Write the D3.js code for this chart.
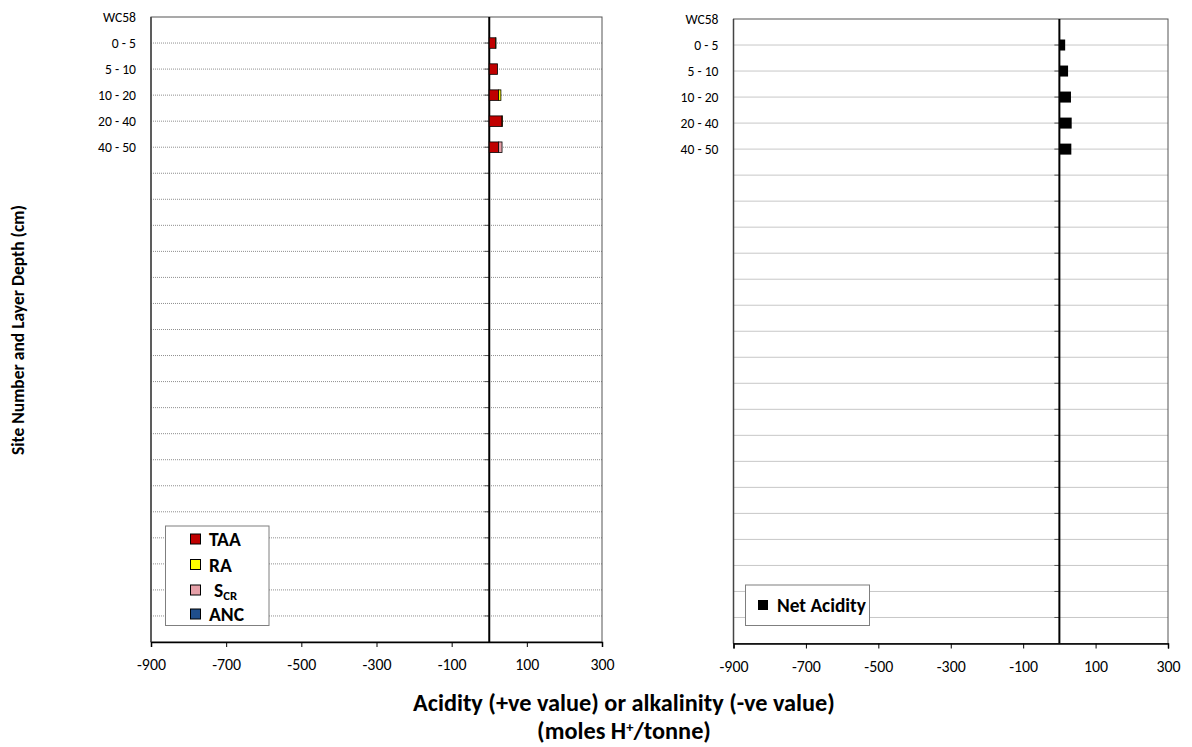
<!DOCTYPE html>
<html>
<head>
<meta charset="utf-8">
<script src="https://cdn.jsdelivr.net/npm/d3@7/dist/d3.min.js"></script>
<style>
  html, body { margin: 0; padding: 0; background: #fff; }
  svg { display: block; font-family: Carlito, Lato, "Open Sans", sans-serif; }
</style>
</head>
<body>
<svg id="chart" width="1192" height="747"></svg>
<script>
// Layer labels for site WC58; the remaining slots on the axis are empty.
const layers = ["WC58", "0 - 5", "5 - 10", "10 - 20", "20 - 40", "40 - 50"];
const emptySlots = 19;
const categories = layers.concat(d3.range(emptySlots).map(i => "blank" + i));

// Acidity components (moles H+/tonne) for each layer below the site row
const depthLayers = ["0 - 5", "5 - 10", "10 - 20", "20 - 40", "40 - 50"];
const taa = [17, 22, 25, 34, 25];
const ra = [1, 0, 6, 1, 0];
const scr = [0, 0, 0, 0, 9];
const anc = [0, 0, 0, 0, 0];
const netAcidity = [16, 24, 32, 34, 33];

const xTicks = [-900, -700, -500, -300, -100, 100, 300];
const xDomain = [-900, 300];

const componentNames = ["TAA", "RA", "SCR", "ANC"];
const componentColors = { TAA: "#c00000", RA: "#ffff00", SCR: "#e6a0a8", ANC: "#1f4e8c" };

const svg = d3.select("#chart");

// Font size that makes a sample string span the wanted width
function fitSize(sample, weight, width) {
  const t = svg.append("text").attr("font-size", 20).attr("font-weight", weight).text(sample);
  const w = t.node().getComputedTextLength();
  t.remove();
  return 20 * width / w;
}
const tickSize = fitSize("-700", "normal", 29);
const catSize = fitSize("40 - 50", "normal", 38);
const legendSize = fitSize("ANC", "bold", 35);
const netSize = fitSize("Net Acidity", "bold", 89);
const yTitleSize = fitSize("Site Number and Layer Depth (cm)", "bold", 250);
const xTitleSize = fitSize("Acidity (+ve value) or alkalinity (-ve value)", "bold", 422);

function drawPanel(cfg) {
  const g = svg.append("g");
  const x = d3.scaleLinear().domain(xDomain).range([cfg.left, cfg.right]);
  const y = d3.scalePoint().domain(categories).range([cfg.top, cfg.bottom]).padding(0);

  // dotted gridlines at each category
  g.selectAll("line.grid")
    .data(categories.slice(1, -1))
    .join("line")
    .attr("class", "grid")
    .attr("x1", cfg.left).attr("x2", cfg.right)
    .attr("y1", d => y(d)).attr("y2", d => y(d))
    .attr("stroke", "#8f8f8f")
    .attr("stroke-width", 1)
    .attr("stroke-dasharray", "1,1");

  // plot frame
  g.append("rect")
    .attr("x", cfg.left).attr("y", cfg.top)
    .attr("width", cfg.right - cfg.left).attr("height", cfg.bottom - cfg.top)
    .attr("fill", "none").attr("stroke", "#555").attr("stroke-width", 1);
  g.append("line")
    .attr("x1", cfg.left).attr("x2", cfg.left).attr("y1", cfg.top).attr("y2", cfg.bottom)
    .attr("stroke", "#444").attr("stroke-width", 1.5);

  // bottom value axis
  const xAxis = d3.axisBottom(x).tickValues(xTicks).tickSize(5).tickPadding(12).tickFormat(d => String(d));
  const ax = g.append("g").attr("transform", `translate(0,${cfg.bottom})`).call(xAxis);
  ax.select(".domain").attr("stroke", "#000").attr("stroke-width", 1.5);
  ax.selectAll(".tick line").attr("stroke", "#000");
  ax.selectAll(".tick text")
    .attr("font-size", tickSize).attr("fill", "#000")
    .style("font-family", "Carlito, Lato, sans-serif");

  // category labels on the left
  g.selectAll("text.cat")
    .data(layers)
    .join("text")
    .attr("class", "cat")
    .attr("x", cfg.left - 15)
    .attr("y", d => y(d))
    .attr("dy", "0.35em")
    .attr("text-anchor", "end")
    .attr("font-size", catSize)
    .text(d => d);

  // category axis ticks at zero
  g.selectAll("line.ctick")
    .data(categories.slice(1, -1))
    .join("line")
    .attr("class", "ctick")
    .attr("x1", x(0) - 5).attr("x2", x(0))
    .attr("y1", d => y(d)).attr("y2", d => y(d))
    .attr("stroke", "#555").attr("stroke-width", 1);

  // zero line
  g.append("line")
    .attr("x1", x(0)).attr("x2", x(0))
    .attr("y1", cfg.top).attr("y2", cfg.bottom)
    .attr("stroke", "#000").attr("stroke-width", 2);

  return { g, x, y };
}

const barH = 10.5;

// Left panel: stacked acidity components
const left = drawPanel({ left: 151, right: 602, top: 17, bottom: 642 });
const stackRows = depthLayers.map((d, i) => ({ layer: d, TAA: taa[i], RA: ra[i], SCR: scr[i], ANC: anc[i] }));
const stacked = d3.stack().keys(componentNames).offset(d3.stackOffsetDiverging)(stackRows);
left.g.append("g").selectAll("g")
  .data(stacked)
  .join("g")
  .attr("fill", s => componentColors[s.key])
  .selectAll("rect")
  .data(s => s.filter(p => p[1] !== p[0]))
  .join("rect")
  .attr("x", p => left.x(Math.min(p[0], p[1])))
  .attr("width", p => Math.abs(left.x(p[1]) - left.x(p[0])))
  .attr("y", p => left.y(p.data.layer) - barH / 2)
  .attr("height", barH)
  .attr("stroke", "#000")
  .attr("stroke-width", 0.8);

// Right panel: net acidity
const right = drawPanel({ left: 733.5, right: 1168, top: 19, bottom: 643.5 });
right.g.append("g").selectAll("rect")
  .data(depthLayers.map((d, i) => ({ layer: d, v: netAcidity[i] })))
  .join("rect")
  .attr("x", d => right.x(Math.min(0, d.v)))
  .attr("width", d => Math.abs(right.x(d.v) - right.x(0)))
  .attr("y", d => right.y(d.layer) - 11 / 2)
  .attr("height", 11)
  .attr("fill", "#000");

// Left legend
const lg = svg.append("g");
lg.append("rect").attr("x", 165.5).attr("y", 526).attr("width", 103.5).attr("height", 99.5)
  .attr("fill", "#fff").attr("stroke", "#7f7f7f").attr("stroke-width", 1);
const legendY = [539, 564.5, 590, 614];
componentNames.forEach((k, i) => {
  lg.append("rect").attr("x", 190.5).attr("y", legendY[i] - 5).attr("width", 10).attr("height", 10)
    .attr("fill", componentColors[k]).attr("stroke", "#000").attr("stroke-width", 1);
  const t = lg.append("text").attr("x", k === "SCR" ? 214 : 209).attr("y", legendY[i]).attr("dy", "0.36em")
    .attr("font-size", legendSize).attr("font-weight", "bold");
  if (k === "SCR") {
    t.append("tspan").text("S");
    t.append("tspan").attr("font-size", legendSize * 0.65).attr("dy", "3").text("CR");
  } else {
    t.text(k);
  }
});

// Right legend
const rg = svg.append("g");
rg.append("rect").attr("x", 745.5).attr("y", 585).attr("width", 124).attr("height", 40.5)
  .attr("fill", "#fff").attr("stroke", "#7f7f7f").attr("stroke-width", 1);
rg.append("rect").attr("x", 758).attr("y", 600).attr("width", 10).attr("height", 10).attr("fill", "#000");
rg.append("text").attr("x", 777).attr("y", 605.5).attr("dy", "0.36em")
  .attr("font-size", netSize).attr("font-weight", "bold").text("Net Acidity");

// Axis titles
svg.append("text")
  .attr("transform", "translate(24,330) rotate(-90)")
  .attr("text-anchor", "middle")
  .attr("font-size", yTitleSize).attr("font-weight", "bold")
  .text("Site Number and Layer Depth (cm)");

const xt = svg.append("text").attr("text-anchor", "middle").attr("font-size", xTitleSize).attr("font-weight", "bold");
xt.append("tspan").attr("x", 624).attr("y", 711).text("Acidity (+ve value) or alkalinity (-ve value)");
const l2 = xt.append("tspan").attr("x", 624).attr("y", 739);
l2.append("tspan").text("(moles H");
l2.append("tspan").attr("font-size", xTitleSize * 0.6).attr("dy", -7).text("+");
l2.append("tspan").attr("dy", 7).text("/tonne)");
</script>
</body>
</html>
